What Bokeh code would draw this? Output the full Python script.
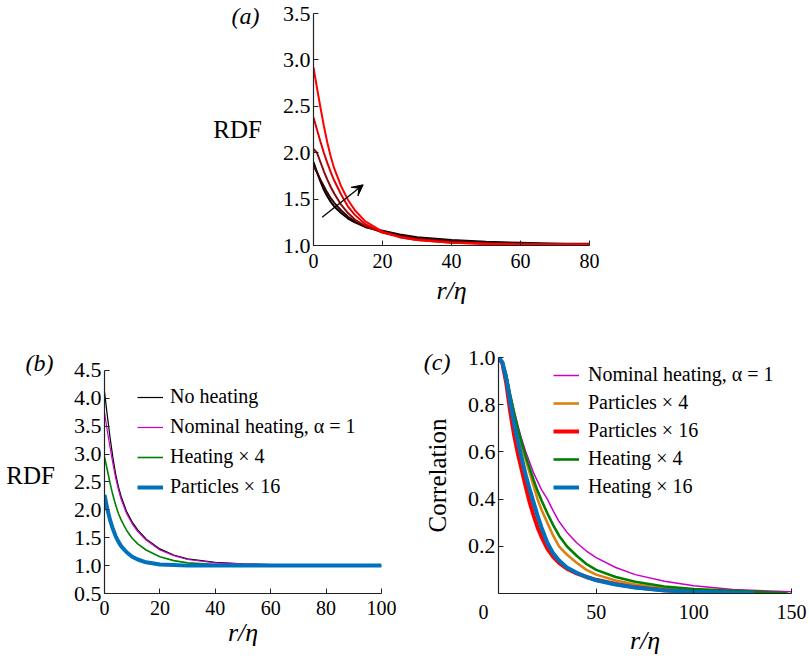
from bokeh.plotting import figure
from bokeh.models import (Range1d, FixedTicker, Arrow, VeeHead, Legend, LinearAxis,
                          LegendItem, PrintfTickFormatter)
from bokeh.layouts import column, row
from bokeh.embed import file_html
from bokeh.resources import INLINE

FONT = "Liberation Serif"

# ---------------- panel (a): RDF, increasing heating ----------------
r_a = [0, 1, 2, 3, 4, 5, 6, 8, 10, 12, 15, 20, 25, 30, 40, 50, 60, 70, 80]
rdf_a1 = [1.90, 1.79, 1.69, 1.60, 1.53, 1.47, 1.42, 1.35, 1.29, 1.25, 1.20, 1.16, 1.12, 1.09, 1.06, 1.04, 1.03, 1.02, 1.02]
rdf_a2 = [1.86, 1.79, 1.71, 1.64, 1.57, 1.51, 1.46, 1.38, 1.31, 1.26, 1.20, 1.15, 1.11, 1.08, 1.05, 1.03, 1.02, 1.02, 1.01]
rdf_a3 = [2.04, 2.00, 1.90, 1.80, 1.71, 1.63, 1.56, 1.44, 1.35, 1.28, 1.21, 1.14, 1.10, 1.07, 1.04, 1.02, 1.02, 1.01, 1.01]
rdf_a4 = [2.38, 2.25, 2.12, 2.00, 1.89, 1.79, 1.70, 1.55, 1.42, 1.33, 1.23, 1.14, 1.09, 1.06, 1.03, 1.02, 1.01, 1.01, 1.01]
rdf_a5 = [2.92, 2.70, 2.49, 2.29, 2.11, 1.96, 1.83, 1.64, 1.49, 1.38, 1.26, 1.15, 1.09, 1.06, 1.03, 1.02, 1.01, 1.01, 1.01]
a_series = [rdf_a1, rdf_a2, rdf_a3, rdf_a4, rdf_a5]
a_colors = ["#000000", "#3c0000", "#8a0a0a", "#e00000", "#ff0000"]
arrow_start = (2.5, 1.305)
arrow_end = (14.4, 1.654)
a_xticks = [0, 20, 40, 60, 80]
a_yticks = [1.0, 1.5, 2.0, 2.5, 3.0, 3.5]

# ---------------- panel (b): RDF comparison ----------------
r_b = [0, 1, 2, 3, 4, 5, 6, 8, 10, 12, 15, 20, 25, 30, 40, 50, 60, 70, 80, 90, 100]
rdf_no_heat = [4.12, 3.70, 3.30, 2.95, 2.65, 2.42, 2.24, 1.97, 1.78, 1.64, 1.48, 1.30, 1.19, 1.12, 1.06, 1.03, 1.02, 1.01, 1.00, 1.00, 1.00]
rdf_nominal = [3.75, 3.42, 3.12, 2.84, 2.58, 2.37, 2.19, 1.93, 1.75, 1.61, 1.46, 1.28, 1.18, 1.11, 1.05, 1.03, 1.02, 1.01, 1.00, 1.00, 1.00]
rdf_heat4 = [2.95, 2.72, 2.48, 2.27, 2.09, 1.94, 1.82, 1.63, 1.49, 1.39, 1.28, 1.16, 1.09, 1.05, 1.02, 1.01, 1.00, 1.00, 1.00, 1.00, 1.00]
rdf_part16 = [2.27, 2.02, 1.82, 1.66, 1.53, 1.43, 1.35, 1.24, 1.16, 1.11, 1.06, 1.02, 1.01, 1.00, 1.00, 1.00, 1.00, 1.00, 1.00, 1.00, 1.00]
b_labels = ["No heating", "Nominal heating, \u03b1 = 1", "Heating \u00d7 4", "Particles \u00d7 16"]
b_xticks = [0, 20, 40, 60, 80, 100]
b_yticks = [0.5, 1.0, 1.5, 2.0, 2.5, 3.0, 3.5, 4.0, 4.5]

# ---------------- panel (c): correlation ----------------
r_c = [0, 2, 4, 6, 8, 10, 12, 14, 16, 18, 20, 22, 25, 28, 31, 35, 40, 45, 50, 60, 70, 85, 100, 120]
corr_nominal = [1.0, 0.98, 0.93, 0.85, 0.775, 0.71, 0.65, 0.60, 0.555, 0.51, 0.475, 0.44, 0.40, 0.35, 0.305, 0.26, 0.215, 0.18, 0.152, 0.11, 0.08, 0.052, 0.033, 0.017]
corr_part4 = [1.0, 0.98, 0.92, 0.83, 0.75, 0.68, 0.62, 0.565, 0.51, 0.455, 0.40, 0.355, 0.30, 0.245, 0.20, 0.165, 0.13, 0.10, 0.08, 0.055, 0.038, 0.022, 0.014, 0.008]
corr_part16 = [1.0, 0.975, 0.89, 0.77, 0.67, 0.59, 0.52, 0.45, 0.385, 0.33, 0.28, 0.24, 0.19, 0.155, 0.13, 0.105, 0.085, 0.07, 0.058, 0.04, 0.026, 0.014, 0.008, 0.003]
corr_heat4 = [1.0, 0.98, 0.925, 0.84, 0.765, 0.695, 0.635, 0.58, 0.53, 0.48, 0.435, 0.395, 0.34, 0.29, 0.245, 0.20, 0.16, 0.125, 0.10, 0.07, 0.05, 0.03, 0.019, 0.011]
corr_heat16 = [1.0, 0.98, 0.91, 0.81, 0.72, 0.64, 0.57, 0.50, 0.44, 0.385, 0.33, 0.28, 0.215, 0.17, 0.14, 0.11, 0.088, 0.07, 0.056, 0.038, 0.025, 0.013, 0.007, 0.003]
# tail end points (last r, last value) of each series
tail_nominal = (150, 0.007)
tail_part4 = (140, 0.003)
tail_part16 = (135, 0.0)
tail_heat4 = (148, 0.002)
tail_heat16 = (131, 0.001)
c_labels = ["Nominal heating, \u03b1 = 1", "Particles \u00d7 4", "Particles \u00d7 16",
            "Heating \u00d7 4", "Heating \u00d7 16"]
c_xticks = [0, 50, 100, 150]
c_yticks = [0.2, 0.4, 0.6, 0.8, 1.0]

# panel tags and the data height at which each sits
panel_tags = ["(a)", "(b)", "(c)"]
tag_heights = [3.478, 4.643, 0.981]

MAGENTA = "#c800c8"
ORANGE = "#db8012"
RED = "#ff0000"
GREEN = "#008000"
BLUE = "#0072bd"


def style(p, xticks, yticks, xbounds, ybounds, xstand, xlab_stand, yfmt="%.1f"):
    p.outline_line_color = None
    p.xgrid.visible = False
    p.ygrid.visible = False
    p.background_fill_color = "white"
    p.border_fill_color = "white"
    p.xaxis[0].ticker = FixedTicker(ticks=xticks)
    p.yaxis[0].ticker = FixedTicker(ticks=yticks)
    p.yaxis[0].formatter = PrintfTickFormatter(format=yfmt)
    p.xaxis[0].bounds = xbounds
    p.yaxis[0].bounds = ybounds
    for ax in (p.xaxis[0], p.yaxis[0]):
        ax.major_tick_in = 5
        ax.major_tick_out = 0
        ax.minor_tick_in = 0
        ax.minor_tick_out = 0
        ax.axis_line_color = "#222222"
        ax.axis_line_width = 1.2
        ax.major_tick_line_color = "#222222"
        ax.major_label_text_font = FONT
        ax.major_label_text_color = "black"
        ax.axis_label_text_font = FONT
        ax.axis_label_text_font_size = "25px"
        ax.axis_label_text_color = "black"
        ax.axis_label_text_font_style = "normal"
    p.xaxis[0].major_label_text_font_size = "20px"
    p.yaxis[0].major_label_text_font_size = "22px"
    p.xaxis[0].major_label_standoff = xstand
    p.yaxis[0].major_label_standoff = 3
    p.xaxis[0].axis_label = "r/\u03b7"
    p.xaxis[0].axis_label_text_font_size = "26px"
    p.xaxis[0].axis_label_text_font_style = "italic"
    p.xaxis[0].axis_label_standoff = xlab_stand


def rdf_label(p, standoff):
    ax = p.yaxis[0]
    ax.axis_label = "RDF"
    ax.axis_label_orientation = "horizontal"
    ax.axis_label_standoff = standoff


def tag_axis(p, tag, height, standoff):
    ax = LinearAxis(ticker=FixedTicker(ticks=[height]), formatter=PrintfTickFormatter(format=tag),
                    axis_line_color=None, major_tick_line_color=None,
                    minor_tick_line_color=None, major_tick_in=0, major_tick_out=0,
                    minor_tick_in=0, minor_tick_out=0, major_label_standoff=standoff,
                    major_label_text_font=FONT, major_label_text_font_size="24px",
                    major_label_text_font_style="italic", major_label_text_color="black")
    p.add_layout(ax, "left")


# ---- figure (a)
pA = figure(width=809, height=330, x_range=Range1d(0, 80), y_range=Range1d(1.0, 3.5),
            min_border_left=313, min_border_right=220, min_border_top=13, min_border_bottom=85,
            output_backend="svg", toolbar_location=None)
style(pA, a_xticks, a_yticks, (0, 80), (1.0, 3.5), 8, 5)
for ys, col in zip(a_series, a_colors):
    pA.line(r_a, ys, line_color=col, line_width=2)
pA.add_layout(Arrow(end=VeeHead(size=11, fill_color="black", line_color="black", line_width=1),
                    x_start=arrow_start[0], y_start=arrow_start[1],
                    x_end=arrow_end[0], y_end=arrow_end[1], line_width=1.3, line_color="black"))
rdf_label(pA, 18)
tag_axis(pA, panel_tags[0], tag_heights[0], -49)

# ---- figure (b)
B_TOP = 4.733
pB = figure(width=400, height=328, x_range=Range1d(0, 100), y_range=Range1d(0.5, B_TOP),
            min_border_left=104, min_border_right=19, min_border_top=27, min_border_bottom=65,
            output_backend="svg", toolbar_location=None)
style(pB, b_xticks, b_yticks, (0, 100), (0.5, 4.5), 7, 0)
rb1 = pB.line(r_b, rdf_no_heat, line_color="black", line_width=1.2)
rb2 = pB.line(r_b, rdf_nominal, line_color=MAGENTA, line_width=1.2)
rb3 = pB.line(r_b, rdf_heat4, line_color=GREEN, line_width=1.6)
rb4 = pB.line(r_b, rdf_part16, line_color=BLUE, line_width=4)
legB = Legend(items=[LegendItem(label=l, renderers=[r]) for l, r in zip(b_labels, [rb1, rb2, rb3, rb4])],
              location=(33, 95), padding=0, margin=0, spacing=7, glyph_width=26, glyph_height=20,
              label_height=20, label_standoff=7, border_line_color=None, background_fill_alpha=0,
              label_text_font=FONT, label_text_font_size="20px", label_text_color="black")
pB.add_layout(legB)
rdf_label(pB, 16)
tag_axis(pB, panel_tags[1], tag_heights[1], -50)

# ---- figure (c)
pC = figure(width=409, height=328, x_range=Range1d(0, 150), y_range=Range1d(0, 1.0),
            min_border_left=98, min_border_right=18, min_border_top=27, min_border_bottom=65,
            output_backend="svg", toolbar_location=None)
style(pC, c_xticks, c_yticks, (0, 150), (0, 1.0), 7, 0)
pC.xaxis[0].major_label_overrides = {0: "0\u2007\u2007\u2007"}
pC.yaxis[0].axis_label = "Correlation"
pC.yaxis[0].axis_label_standoff = 14
series_c = [(corr_nominal, tail_nominal, MAGENTA, 1.5),
            (corr_part4, tail_part4, ORANGE, 2.6),
            (corr_part16, tail_part16, RED, 4),
            (corr_heat4, tail_heat4, GREEN, 2.6),
            (corr_heat16, tail_heat16, BLUE, 4)]
rends_c = []
for ys, tail, col, lw in series_c:
    xs = r_c + [tail[0]]
    yv = ys + [tail[1]]
    rends_c.append(pC.line(xs, yv, line_color=col, line_width=lw))
legC = Legend(items=[LegendItem(label=l, renderers=[r]) for l, r in zip(c_labels, rends_c)],
              location=(55, 95), padding=0, margin=0, spacing=5, glyph_width=26, glyph_height=20,
              label_height=20, label_standoff=9, border_line_color=None, background_fill_alpha=0,
              label_text_font=FONT, label_text_font_size="20px", label_text_color="black")
pC.add_layout(legC)
tag_axis(pC, panel_tags[2], tag_heights[2], -30)

layout = column(pA, row(pB, pC))
open("out.html", "w").write(file_html(layout, INLINE))
